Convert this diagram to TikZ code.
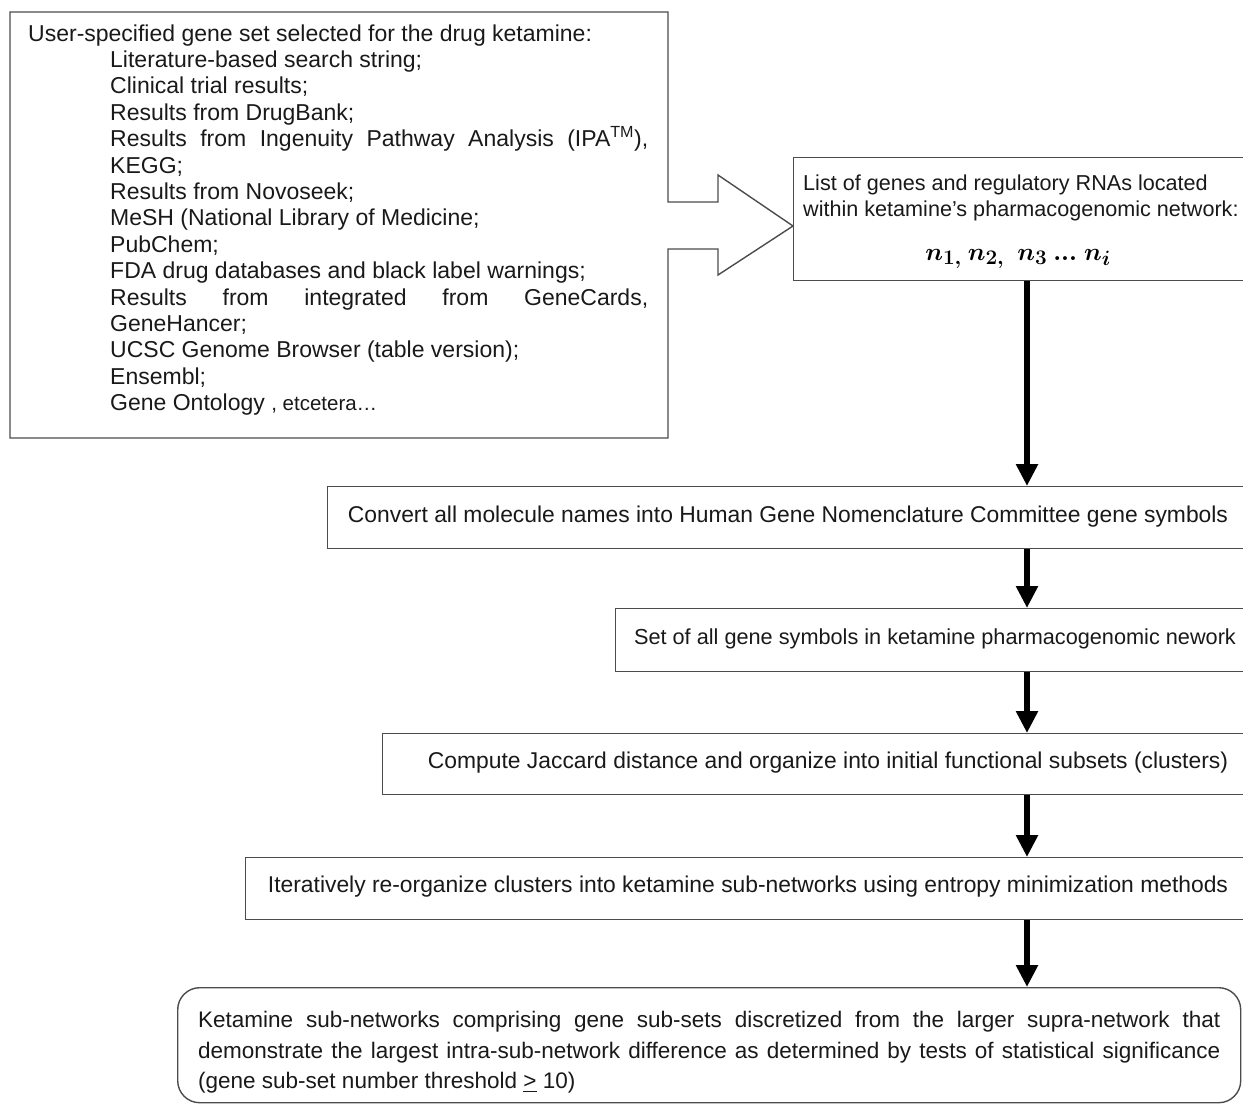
\documentclass[tikz,border=0pt]{standalone}
\usepackage[no-math]{fontspec}
\setmainfont{Liberation Sans}
\usepackage{amsmath,bm}
\usetikzlibrary{arrows.meta}
\newcommand\fsz{\fontsize{23}{26.4}\selectfont}
\newcommand\msz{\fontsize{30}{34}\selectfont}
\newcommand\jline[1]{\hspace*{82pt}\makebox[538pt][s]{#1}}
\newcommand\iline[1]{\hspace*{82pt}#1}
\newcommand\nlist{\ensuremath{\bm{n}_{\bm{1,}}\hspace{6pt}\bm{n}_{\bm{2,}}\hspace{13pt}\bm{n}_{\bm{3}}\hspace{6pt}\bm{...}\hspace{7pt}\bm{n}_{\bm{i}}}}
\tikzset{
  outline/.style={draw=black!70, line width=1.4pt, line join=miter},
  box/.style={draw=black!70, line width=1.4pt, rectangle, inner sep=0pt},
  lbl/.style={inner sep=0pt, font=\fsz, text=black!90},
  flow/.style={line width=6.5pt, -{Triangle[width=21pt,length=22pt]}},
}
\begin{document}
\begin{tikzpicture}[x=1pt,y=-1pt]
\useasboundingbox (0,0) rectangle (1243,1104);
% box 1 with the big outline arrow
\draw[outline] (668,202) -- (718,202) -- (718,175) -- (793,226) -- (718,275) -- (718,249) -- (668,249)
  -- (668,438) -- (10,438) -- (10,12) -- (668,12) -- cycle;
\node[lbl, anchor=north west, align=left] (t1) at (28,24.3) {%
User-specified gene set selected for the drug ketamine:\\
\iline{Literature-based search string;}\\
\iline{Clinical trial results;}\\
\iline{Results from DrugBank;}\\
\jline{Results from Ingenuity Pathway Analysis (IPA\textsuperscript{TM}),}\\
\iline{KEGG;}\\
\iline{Results from Novoseek;}\\
\iline{MeSH (National Library of Medicine;}\\
\iline{PubChem;}\\
\iline{FDA drug databases and black label warnings;}\\
\jline{Results from integrated from GeneCards,}\\
\iline{GeneHancer;}\\
\iline{UCSC Genome Browser (table version);}\\
\iline{Ensembl;}\\
\iline{Gene Ontology {\fontsize{20.5}{24}\selectfont, etcetera…}}};
% box 2
\node[box, anchor=north west, minimum width=457pt, minimum height=123pt] (b2) at (793,157) {};
\node[lbl, anchor=north west, align=left, font=\fontsize{21.6}{26}\selectfont] (t2) at (803,174.5) {List of genes and regulatory RNAs located\\within ketamine’s pharmacogenomic network:};
\node[inner sep=0pt, font=\msz] (m2) at (1018,259) {\nlist};
% boxes 3-6
\node[box, anchor=north west, minimum width=923pt, minimum height=62pt] (b3) at (327,486) {};
\node[lbl, font=\fontsize{22.85}{26}\selectfont] (t3) at (788,517) {Convert all molecule names into Human Gene Nomenclature Committee gene symbols};
\node[box, anchor=north west, minimum width=635pt, minimum height=63pt] (b4) at (615,608) {};
\node[lbl, font=\fontsize{21.7}{26}\selectfont] (t4) at (935,639) {Set of all gene symbols in ketamine pharmacogenomic nework};
\node[box, anchor=north west, minimum width=868pt, minimum height=61pt] (b5) at (382,733) {};
\node[lbl, font=\fontsize{22.85}{26}\selectfont] (t5) at (828,763) {Compute Jaccard distance and organize into initial functional subsets (clusters)};
\node[box, anchor=north west, minimum width=1005pt, minimum height=62pt] (b6) at (245,857) {};
\node[lbl, font=\fontsize{22.85}{26}\selectfont] (t6) at (748,887) {Iteratively re-organize clusters into ketamine sub-networks using entropy minimization methods};
% box 7
\node[box, rounded corners=22pt, anchor=north west, minimum width=1063pt, minimum height=115pt] (b7) at (177,987) {};
\node[lbl, anchor=north west, text width=1022pt, align=justify, font=\fontsize{22.5}{30.5}\selectfont] (t7) at (198,1011) {%
Ketamine sub-networks comprising gene sub-sets discretized from the larger supra-network that\linebreak
demonstrate the largest intra-sub-network difference as determined by tests of statistical significance\linebreak
(gene sub-set number threshold \underline{>} 10)};
% arrows
\coordinate (ax) at (1027,0);
\draw[flow] (b2.south -| ax) -- (b3.north -| ax);
\draw[flow] (b3.south -| ax) -- (b4.north -| ax);
\draw[flow] (b4.south -| ax) -- (b5.north -| ax);
\draw[flow] (b5.south -| ax) -- (b6.north -| ax);
\draw[flow] (b6.south -| ax) -- (b7.north -| ax);
\end{tikzpicture}
\end{document}
